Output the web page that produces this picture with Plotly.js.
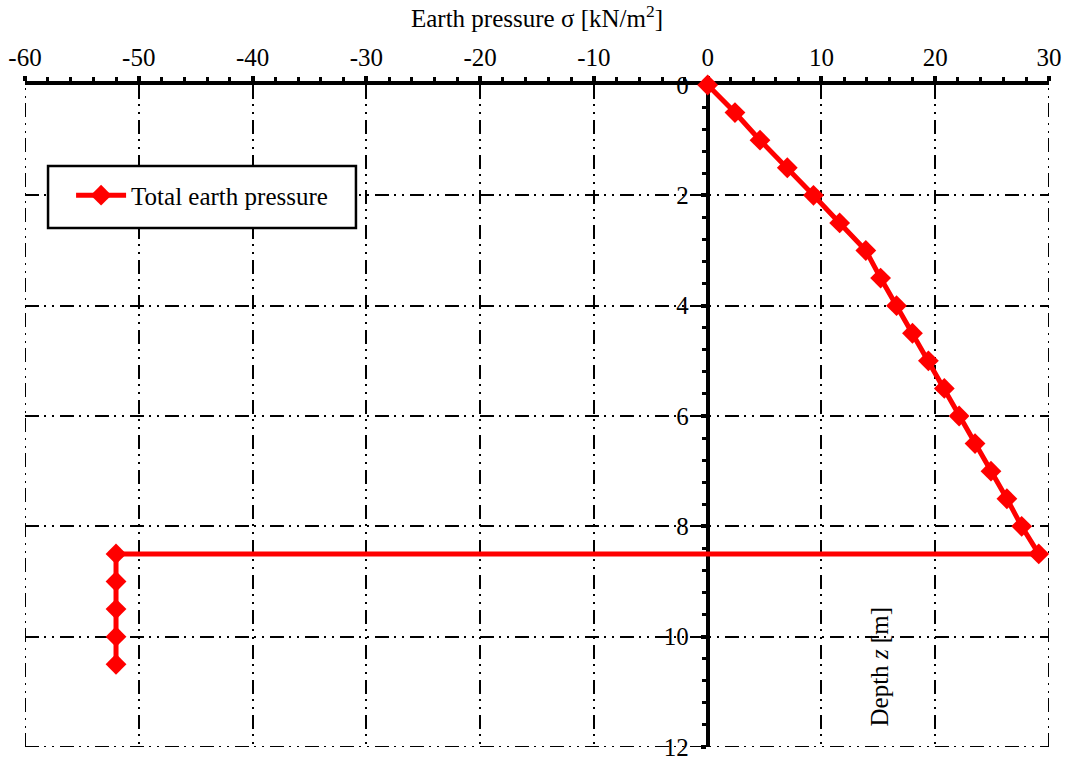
<!DOCTYPE html>
<html>
<head>
<meta charset="utf-8">
<script src="https://cdn.plot.ly/plotly-3.0.1.min.js"></script>
<style>html,body{margin:0;padding:0;background:#fff;}#chart{width:1071px;height:757px;}</style>
</head>
<body>
<div id="chart"></div>
<script>
// Depth z [m]
const depth = [0, 0.5, 1, 1.5, 2, 2.5, 3, 3.5, 4, 4.5, 5, 5.5, 6, 6.5, 7, 7.5, 8, 8.5, 8.5, 9, 9.5, 10, 10.5];
// Total earth pressure sigma [kN/m2]
const pressure = [0, 2.4, 4.6, 7.0, 9.3, 11.6, 13.9, 15.2, 16.6, 18.0, 19.4, 20.8, 22.1, 23.5, 24.9, 26.3, 27.6, 29.1, -52, -52, -52, -52, -52];
const seriesName = 'Total earth pressure';
const xTitle = 'Earth pressure σ [kN/m<sup>2</sup>]';
const yTitle = 'Depth <i>z</i> [m]';
const xTickVals = [-60, -50, -40, -30, -20, -10, 0, 10, 20, 30];
const xTickText = ['-60', '-50', '-40', '-30', '-20', '-10', '0', '10', '20', '30'];
const yTickVals = [0, 2, 4, 6, 8, 10, 12];
const yTickText = ['0', '2', '4', '6', '8', '10', '12'];

const FONT = 'Liberation Serif, Times New Roman, serif';
const dash = '14px,5px,2px,6px,2px,6px';
const xRange = [-60, 30];
const yRange = [12, 0];

const trace = {
  x: pressure, y: depth, name: seriesName, type: 'scatter', mode: 'lines+markers',
  line: {color: '#ff0000', width: 5},
  marker: {symbol: 'diamond', size: 16, color: '#ff0000'},
  cliponaxis: false
};

const gridStyle = {color: '#000', width: 2, dash: dash};

const layout = {
  width: 1071, height: 757,
  margin: {l: 25, r: 22, t: 85, b: 10},
  paper_bgcolor: '#fff', plot_bgcolor: '#fff',
  font: {family: FONT, size: 25, color: '#000'},
  showlegend: true,
  legend: {x: 0.045, y: 0.868, xanchor: 'left', yanchor: 'top', bgcolor: 'rgba(0,0,0,0)',
           borderwidth: 0, itemwidth: 50, font: {family: FONT, size: 25}},
  xaxis: {
    side: 'top', range: xRange, tickmode: 'array', tickvals: xTickVals, ticktext: xTickText,
    showline: true, linecolor: '#000', linewidth: 4,
    ticks: 'outside', ticklen: 5, tickwidth: 4, tickcolor: '#000', ticklabeloverflow: 'allow',
    minor: {dtick: 2, tick0: 0, ticks: 'outside', ticklen: 4, tickwidth: 3, tickcolor: '#000', showgrid: false},
    showgrid: true, gridcolor: '#000', gridwidth: 2, griddash: dash,
    zeroline: false, layer: 'below traces',
    tickfont: {family: FONT, size: 25},
    title: {text: xTitle, font: {family: FONT, size: 25}, standoff: 10}
  },
  yaxis: {
    range: yRange, tickmode: 'array', tickvals: yTickVals, ticktext: yTickText,
    anchor: 'free', position: 60/90, side: 'left',
    showline: true, linecolor: '#000', linewidth: 4,
    ticks: 'outside', ticklen: 5, tickwidth: 4, tickcolor: '#000', ticklabelstandoff: 7,
    ticklabeloverflow: 'allow',
    minor: {dtick: 0.4, tick0: 0, ticks: 'outside', ticklen: 4, tickwidth: 3, tickcolor: '#000', showgrid: false},
    showgrid: true, gridcolor: '#000', gridwidth: 2, griddash: dash,
    zeroline: false, layer: 'below traces',
    tickfont: {family: FONT, size: 25}
  },
  shapes: [
    // frame edges drawn with grid style (Plotly omits grid at range ends)
    {type: 'line', xref: 'x', yref: 'paper', x0: xRange[0], x1: xRange[0], y0: 0, y1: 1, line: gridStyle, layer: 'below'},
    {type: 'line', xref: 'x', yref: 'paper', x0: xRange[1], x1: xRange[1], y0: 0, y1: 1, line: gridStyle, layer: 'below'},
    {type: 'line', xref: 'paper', yref: 'y', x0: 0, x1: 1, y0: yRange[0], y1: yRange[0], line: gridStyle, layer: 'below'},
    // legend frame
    {type: 'rect', xref: 'paper', yref: 'paper', x0: 0.0225, x1: 0.3232, y0: 0.784, y1: 0.8776,
     line: {color: '#000', width: 2.5}, fillcolor: '#fff', layer: 'above'}
  ],
  annotations: [{
    text: yTitle, xref: 'x', yref: 'y', x: 15.1, y: 10.55, textangle: -90,
    showarrow: false, font: {family: FONT, size: 25, color: '#000'}
  }]
};

Plotly.newPlot('chart', [trace], layout, {displayModeBar: false, staticPlot: true});
</script>
</body>
</html>
